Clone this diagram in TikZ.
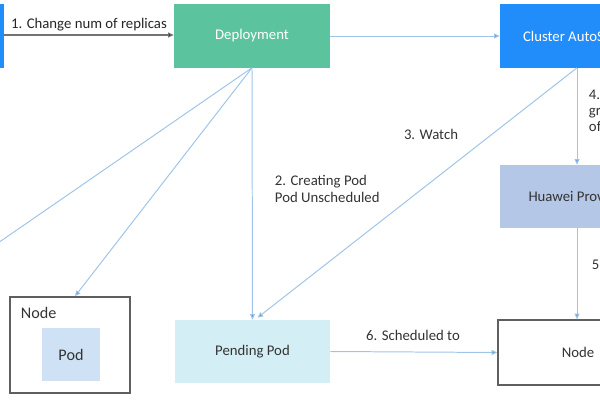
\documentclass[tikz,border=0pt]{standalone}
\usepackage{fontspec}
\setmainfont{Carlito}
\usetikzlibrary{positioning,calc,arrows.meta}

\definecolor{casblue}{RGB}{33,141,250}
\definecolor{deploygreen}{RGB}{91,196,159}
\definecolor{provblue}{RGB}{180,199,231}
\definecolor{pendcyan}{RGB}{211,239,245}
\definecolor{podblue}{RGB}{207,226,245}
\definecolor{linkblue}{RGB}{160,196,232}
\definecolor{tipblue}{RGB}{85,150,215}
\definecolor{framegray}{RGB}{95,95,95}

\begin{document}
\begin{tikzpicture}[x=0.025cm,y=-0.025cm,font=\fontsize{10.5}{11.5}\selectfont,
    box/.style={inner sep=0pt,text=white},
    frame/.style={draw=framegray,line width=1pt,inner sep=0pt},
    link/.style={draw=linkblue,line width=0.7pt,-{Triangle[length=4pt,width=3.5pt,fill=tipblue]}},
    lbl/.style={text=black!80,align=left}]
        \useasboundingbox (0,0) rectangle (600,400);
        \clip (0,0) rectangle (600,400);

        \node[box,fill=casblue,minimum width=1.1cm,minimum height=1.6cm] (hpa) at (-18,36) {};
        \node[box,fill=deploygreen,minimum width=3.9cm,minimum height=1.575cm] (deploy) at (252,36) {Deployment};
        \node[box,fill=casblue,minimum width=3.9cm,minimum height=1.575cm] (cas) at (578,36) {Cluster AutoScaler};
        \node[box,fill=provblue,text=black!80,minimum width=3.9cm,minimum height=1.575cm] (prov) at (578,196.5) {Huawei Provider};
        \node[box,fill=pendcyan,text=black!80,minimum width=3.875cm,minimum height=1.575cm] (pending) at (252.5,351.5) {Pending Pod};
        \node[frame,minimum width=4cm,minimum height=1.625cm,text=black!80] (newnode) at (578,352.5) {Node};

        \node[frame,minimum width=3cm,minimum height=2.4cm] (oldnode) at (70,345) {};
        \node[anchor=west,text=black!80,font=\fontsize{11.5}{13}\selectfont] (oldlbl) at (16,313) {Node};
        \node[box,fill=podblue,text=black!80,minimum width=1.45cm,minimum height=1.325cm,font=\fontsize{11.5}{13}\selectfont] (pod) at (71,354.5) {Pod};

        % step 1
        \draw[draw=black!55,line width=0.8pt,-{Triangle[length=4pt,width=3.5pt,fill=black]}] (hpa.east |- 0,35) -- (deploy.west |- 0,35)
            node[midway,above=-1pt,text=black!85] (l1) {1. Change num of replicas};

        \draw[link] (deploy.east) -- (cas.west);
        \draw[link] (deploy.south) -- (pending.north);
        \draw[link] ($ (cas.south)+(-1,0) $) -- ($ (pending.north)+(5,-2) $);
        \draw[link] ($ (cas.south)+(-1,0) $) -- ($ (prov.north)+(-1,0) $);
        \draw[link] ($ (prov.south)+(-1,0) $) -- ($ (newnode.north)+(-1,0) $);
        \draw[link] (pending.east) -- (newnode.west);
        \draw[link] (deploy.south) -- ($ (oldnode.north)+(5,0) $);

        \coordinate (offleft) at (-60,283);
        \draw[draw=linkblue,line width=0.7pt] (deploy.south) -- (offleft);

        \node[lbl,anchor=west] (l2) at (270,189) {2. Creating Pod\\Pod Unscheduled};
        \node[lbl] (l3) at (431,134) {3. Watch};
        \node[lbl,anchor=north west] (l4) at (584,85) {4.\\group\\of};
        \node[lbl,anchor=west] (l5) at (587,265) {5};
        \node[lbl] (l6) at (413,335) {6. Scheduled to};
    \end{tikzpicture}
\end{document}
